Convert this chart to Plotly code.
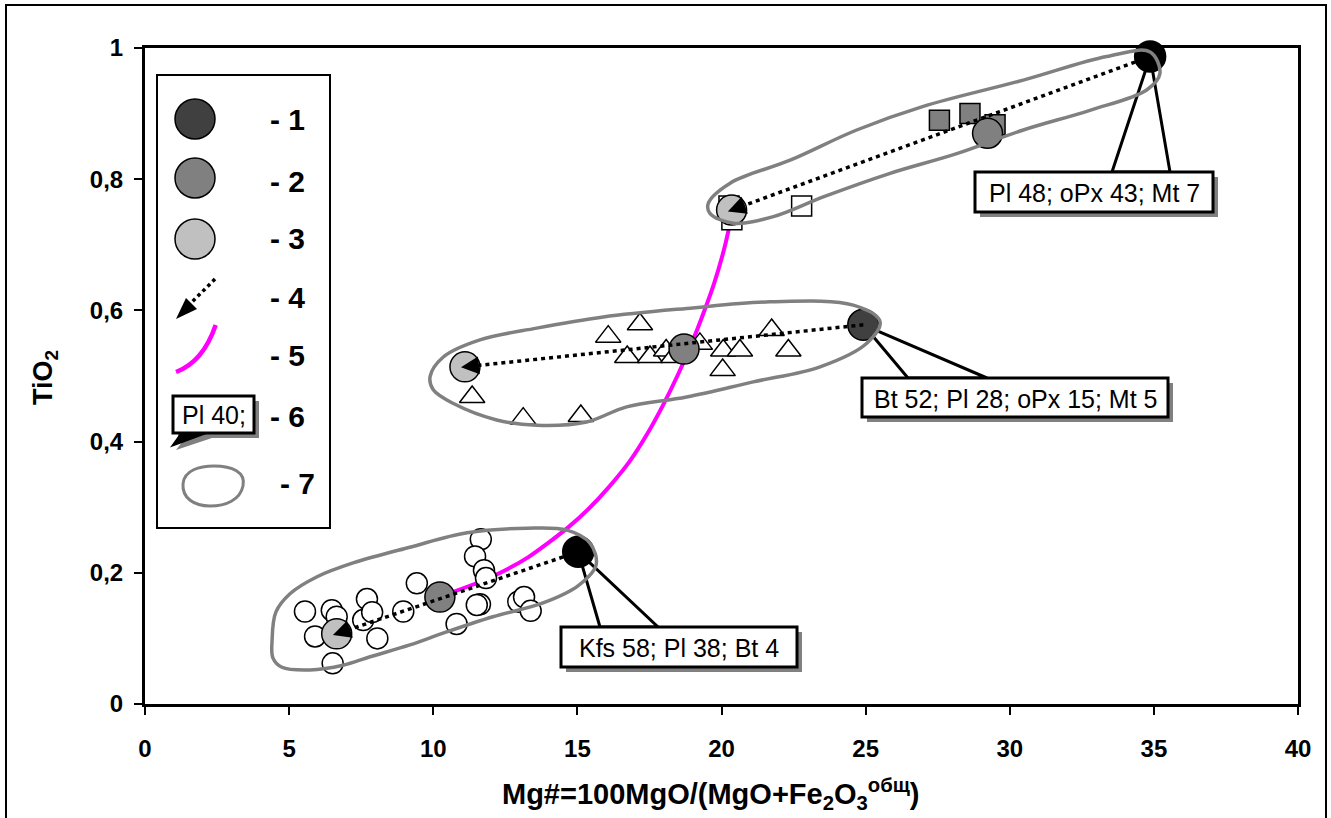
import math
import plotly.graph_objects as go

# ---------------- data ----------------
x_ticks = [0, 5, 10, 15, 20, 25, 30, 35, 40]
x_tick_labels = ["0", "5", "10", "15", "20", "25", "30", "35", "40"]
y_ticks = [0, 0.2, 0.4, 0.6, 0.8, 1.0]
y_tick_labels = ["0", "0,2", "0,4", "0,6", "0,8", "1"]

# open circles (lower group)
open_circle_x = [5.55, 6.48, 6.65, 5.90, 7.70, 7.57, 7.88, 8.06, 6.51, 8.96, 9.43, 10.81,
                 11.65, 11.45, 11.76, 11.83, 11.62, 11.51, 12.95, 13.15, 13.38]
open_circle_y = [0.141, 0.143, 0.133, 0.103, 0.160, 0.128, 0.140, 0.100, 0.062, 0.141, 0.184, 0.122,
                 0.251, 0.225, 0.204, 0.192, 0.152, 0.151, 0.156, 0.163, 0.142]

# open triangles (middle group)
triangle_x = [11.35, 13.12, 15.12, 16.07, 17.17, 16.73, 17.52, 18.08, 18.33, 19.25,
              20.06, 20.64, 20.04, 21.74, 22.32]
triangle_y = [0.468, 0.435, 0.439, 0.560, 0.579, 0.529, 0.529, 0.539, 0.529, 0.549,
              0.539, 0.539, 0.509, 0.570, 0.539]

# squares (upper group)
open_square_x = [20.26, 20.36, 22.78]
open_square_y = [0.759, 0.738, 0.759]
gray_square_x = [27.56, 28.62, 29.49]
gray_square_y = [0.890, 0.900, 0.883]

# model points: 1 - parent, 2 - observed, 3 - calculated residual
p1_x = [15.03, 24.92, 34.87]
p1_y = [0.232, 0.578, 0.987]
p1_color = ["#000000", "#404040", "#000000"]
p2_x = [10.23, 18.70, 29.23]
p2_y = [0.163, 0.541, 0.870]
p3_x = [6.65, 11.10, 20.35]
p3_y = [0.107, 0.514, 0.753]

# magenta trend
magenta_x = [10.70, 11.6, 12.5, 13.3, 14.0, 14.7, 15.4, 16.1, 16.8, 17.4, 18.0, 18.5,
             18.95, 19.35, 19.75, 20.1, 20.35]
magenta_y = [0.171, 0.186, 0.204, 0.224, 0.246, 0.270, 0.298, 0.331, 0.369, 0.410, 0.458, 0.503,
             0.548, 0.593, 0.642, 0.695, 0.745]

# field outlines
ell_low_x = [4.41, 4.54, 5.03, 5.97, 7.22, 9.19, 11.17, 13.25, 14.64, 15.44, 15.65, 15.02,
             13.81, 12.07, 10.34, 9.19, 7.81, 6.87, 5.72, 4.75, 4.44, 4.41]
ell_low_y = [0.098, 0.140, 0.168, 0.194, 0.215, 0.239, 0.261, 0.268, 0.265, 0.245, 0.212, 0.180,
             0.154, 0.133, 0.108, 0.090, 0.072, 0.059, 0.052, 0.056, 0.070, 0.098]
ell_mid_x = [9.89, 10.35, 11.62, 13.59, 15.90, 18.79, 21.68, 24.57, 25.50, 25.04, 23.42,
             21.10, 18.79, 16.71, 15.32, 13.59, 12.20, 10.70, 10.00, 9.89]
ell_mid_y = [0.499, 0.529, 0.555, 0.573, 0.590, 0.603, 0.613, 0.608, 0.583, 0.550, 0.514,
             0.491, 0.468, 0.453, 0.430, 0.425, 0.433, 0.458, 0.479, 0.499]
ell_top_x = [19.54, 20.30, 22.38, 24.69, 27.00, 30.47, 33.36, 34.87, 35.21, 34.75, 32.78,
             30.47, 28.16, 25.85, 23.53, 21.80, 20.41, 19.60, 19.54]
ell_top_y = [0.763, 0.794, 0.829, 0.875, 0.911, 0.951, 0.987, 0.994, 0.961, 0.936, 0.905,
             0.875, 0.839, 0.809, 0.773, 0.743, 0.733, 0.748, 0.763]

callout_texts = ["Kfs 58; Pl 38; Bt 4", "Bt 52; Pl 28; oPx 15; Mt 5", "Pl 48; oPx 43; Mt 7"]
legend_labels = ["- 1", "- 2", "- 3", "- 4", "- 5", "- 6", "- 7"]

# ---------------- layout helpers ----------------
W, H = 1331, 818
L, R, T, B = 145, 1298, 48, 704
XMAX = 40.0
KX = (R - L) / XMAX   # px per x unit
KY = (B - T) / 1.0    # px per y unit
FONT = "Arial, 'Liberation Sans', sans-serif"


def PX(px):
    return (px - L) / (R - L)


def PY(py):
    return (B - py) / (B - T)


def path(points, close=True):
    s = "M " + " L ".join(f"{PX(a):.5f},{PY(b):.5f}" for a, b in points)
    return s + (" Z" if close else "")


fig = go.Figure()

# magenta trend
fig.add_trace(go.Scatter(x=magenta_x, y=magenta_y, mode="lines",
                         line=dict(color="#ff00ff", width=4, shape="spline"),
                         hoverinfo="skip", showlegend=False))

mk_line = dict(color="black", width=1.5)
fig.add_trace(go.Scatter(x=open_circle_x, y=open_circle_y, mode="markers",
                         marker=dict(symbol="circle", size=21, color="white", line=mk_line),
                         showlegend=False, cliponaxis=False))
fig.add_trace(go.Scatter(x=triangle_x, y=triangle_y, mode="markers",
                         marker=dict(symbol="triangle-up", size=22, color="white", line=mk_line),
                         showlegend=False, cliponaxis=False))
fig.add_trace(go.Scatter(x=open_square_x, y=open_square_y, mode="markers",
                         marker=dict(symbol="square", size=20, color="white", line=mk_line),
                         showlegend=False, cliponaxis=False))
fig.add_trace(go.Scatter(x=gray_square_x, y=gray_square_y, mode="markers",
                         marker=dict(symbol="square", size=20, color="#808080", line=mk_line),
                         showlegend=False, cliponaxis=False))

fig.add_trace(go.Scatter(x=p2_x, y=p2_y, mode="markers",
                         marker=dict(symbol="circle", size=30, color="#808080", line=mk_line),
                         showlegend=False, cliponaxis=False))
fig.add_trace(go.Scatter(x=p3_x, y=p3_y, mode="markers",
                         marker=dict(symbol="circle", size=30, color="#c0c0c0", line=mk_line),
                         showlegend=False, cliponaxis=False))
fig.add_trace(go.Scatter(x=p1_x, y=p1_y, mode="markers",
                         marker=dict(symbol="circle", size=31, color=p1_color, line=mk_line),
                         showlegend=False, cliponaxis=False))

for ex, ey in [(ell_low_x, ell_low_y), (ell_mid_x, ell_mid_y), (ell_top_x, ell_top_y)]:
    fig.add_trace(go.Scatter(x=ex, y=ey, mode="lines",
                             line=dict(color="#808080", width=3.5, shape="spline", smoothing=1.0),
                             hoverinfo="skip", showlegend=False, cliponaxis=False))

annotations = []
shapes = []

# dotted arrows 1 -> 3
for i in range(3):
    fig.add_trace(go.Scatter(x=[p1_x[i], p3_x[i]], y=[p1_y[i], p3_y[i]], mode="lines",
                             line=dict(color="black", width=3.5, dash="4px,4px"),
                             hoverinfo="skip", showlegend=False, cliponaxis=False))
    dxp = (p1_x[i] - p3_x[i]) * KX
    dyp = (p1_y[i] - p3_y[i]) * KY
    n = math.hypot(dxp, dyp)
    back = 14.0
    ax = p3_x[i] + back * dxp / n / KX
    ay = p3_y[i] + back * dyp / n / KY
    annotations.append(dict(x=p3_x[i] - 4 * dxp / n / KX, y=p3_y[i] - 4 * dyp / n / KY,
                            xref="x", yref="y", ax=ax, ay=ay, axref="x", ayref="y",
                            showarrow=True, arrowhead=2, arrowsize=1, arrowwidth=3.6,
                            arrowcolor="black", text="", standoff=0, startstandoff=0))

# callouts
callout_boxes = [(561, 627, 797, 667, 600, 658),
                 (862, 378, 1168, 417, 908, 987),
                 (975, 172, 1213, 212, 1112, 1170)]
for i, (bx0, by0, bx1, by1, b0, b1) in enumerate(callout_boxes):
    tx, ty = p1_x[i] / XMAX, p1_y[i]
    shapes.append(dict(type="path", xref="paper", yref="paper", layer="below",
                       path=f"M {PX(b0):.5f},{PY(by0):.5f} L {tx:.5f},{ty:.5f} L {PX(b1):.5f},{PY(by0):.5f} Z",
                       fillcolor="white", line=dict(color="black", width=3)))
    shapes.append(dict(type="rect", xref="paper", yref="paper",
                       x0=PX(bx0 + 5), x1=PX(bx1 + 5), y0=PY(by1 + 5), y1=PY(by0 + 5),
                       fillcolor="#808080", line=dict(width=0)))
    shapes.append(dict(type="rect", xref="paper", yref="paper",
                       x0=PX(bx0), x1=PX(bx1), y0=PY(by1), y1=PY(by0),
                       fillcolor="white", line=dict(color="black", width=3)))
    annotations.append(dict(xref="paper", yref="paper", x=PX((bx0 + bx1) / 2), y=PY((by0 + by1) / 2 + 1),
                            text=callout_texts[i], showarrow=False, xanchor="center", yanchor="middle",
                            font=dict(family=FONT, size=25, color="black")))

# legend box
shapes.append(dict(type="rect", xref="paper", yref="paper", x0=PX(157), x1=PX(330), y0=PY(528), y1=PY(75),
                   fillcolor="white", line=dict(color="black", width=2)))
for cy, col in [(119, "#404040"), (178, "#808080"), (239, "#c0c0c0")]:
    shapes.append(dict(type="circle", xref="paper", yref="paper",
                       x0=PX(175), x1=PX(215), y0=PY(cy + 20), y1=PY(cy - 20),
                       fillcolor=col, line=dict(color="black", width=1.5)))
# legend arrow
shapes.append(dict(type="line", xref="paper", yref="paper", x0=PX(215), y0=PY(279), x1=PX(189), y1=PY(305),
                   line=dict(color="black", width=3.5, dash="dot")))
shapes.append(dict(type="path", xref="paper", yref="paper",
                   path=path([(176, 319), (197, 309), (186, 298)]), fillcolor="black", line=dict(width=0)))
# legend magenta
shapes.append(dict(type="path", xref="paper", yref="paper",
                   path=f"M {PX(215.7):.5f},{PY(325):.5f} Q {PX(203):.5f},{PY(362):.5f} {PX(176):.5f},{PY(372):.5f}",
                   line=dict(color="#ff00ff", width=4.5)))
# legend callout
shapes.append(dict(type="path", xref="paper", yref="paper",
                   path=path([(186, 437), (176, 450), (212, 438)]), fillcolor="#808080", line=dict(width=0)))
shapes.append(dict(type="rect", xref="paper", yref="paper", x0=PX(178), x1=PX(259), y0=PY(438), y1=PY(401),
                   fillcolor="#808080", line=dict(width=0)))
shapes.append(dict(type="path", xref="paper", yref="paper",
                   path=path([(182, 432), (172, 446), (207, 433)]), fillcolor="black",
                   line=dict(color="black", width=1.5)))
shapes.append(dict(type="rect", xref="paper", yref="paper", x0=PX(173), x1=PX(254), y0=PY(433), y1=PY(396),
                   fillcolor="white", line=dict(color="black", width=3)))
annotations.append(dict(xref="paper", yref="paper", x=PX(213.5), y=PY(415), text="Pl 40;", showarrow=False,
                        xanchor="center", yanchor="middle", font=dict(family=FONT, size=25, color="black")))
# legend outline symbol
shapes.append(dict(type="path", xref="paper", yref="paper",
                   path=(f"M {PX(183):.5f},{PY(484):.5f} "
                         f"C {PX(184):.5f},{PY(470):.5f} {PX(200):.5f},{PY(466):.5f} {PX(214):.5f},{PY(466):.5f} "
                         f"C {PX(232):.5f},{PY(466):.5f} {PX(246):.5f},{PY(472):.5f} {PX(243):.5f},{PY(486):.5f} "
                         f"C {PX(240):.5f},{PY(500):.5f} {PX(226):.5f},{PY(506):.5f} {PX(210):.5f},{PY(506):.5f} "
                         f"C {PX(194):.5f},{PY(506):.5f} {PX(182):.5f},{PY(498):.5f} {PX(183):.5f},{PY(484):.5f} Z"),
                   line=dict(color="#808080", width=3)))
legend_y = [120, 181, 238, 297, 355, 416, 484]
legend_x = [268, 268, 268, 268, 268, 268, 278]
for lab, lx, ly in zip(legend_labels, legend_x, legend_y):
    annotations.append(dict(xref="paper", yref="paper", x=PX(lx), y=PY(ly), text=lab, showarrow=False,
                            xanchor="left", yanchor="middle",
                            font=dict(family=FONT, size=30, color="black", weight="bold")))

# axis titles
annotations.append(dict(xref="paper", yref="paper", x=PX(711), y=PY(794),
                        text="Mg#=100MgO/(MgO+Fe<sub>2</sub>O<sub>3</sub><sup>общ</sup>)",
                        showarrow=False, xanchor="center", yanchor="middle",
                        font=dict(family=FONT, size=29, color="black", weight="bold")))
annotations.append(dict(xref="paper", yref="paper", x=PX(45), y=PY(378), text="TiO<sub>2</sub>",
                        showarrow=False, xanchor="center", yanchor="middle", textangle=-90,
                        font=dict(family=FONT, size=27, color="black", weight="bold")))

# outer frame
shapes.append(dict(type="rect", xref="paper", yref="paper", x0=PX(6), x1=PX(1326), y0=PY(840), y1=PY(5),
                   line=dict(color="black", width=2)))

fig.update_layout(
    width=W, height=H, autosize=False,
    margin=dict(l=L, r=W - R, t=T, b=H - B, pad=0),
    paper_bgcolor="white", plot_bgcolor="white",
    shapes=shapes, annotations=annotations,
    font=dict(family=FONT, color="black"),
)
axis_common = dict(showline=True, linewidth=3, linecolor="black", mirror=True, showgrid=False,
                   zeroline=False, ticks="outside", ticklen=8, tickwidth=2, tickcolor="black",
                   tickfont=dict(family=FONT, size=24, color="black", weight="bold"))
fig.update_xaxes(range=[0, 40], tickvals=x_ticks, ticktext=x_tick_labels, ticklabelstandoff=13, **axis_common)
fig.update_yaxes(range=[0, 1], tickvals=y_ticks, ticktext=y_tick_labels, ticklabelstandoff=6, **axis_common)

fig.write_html("out.html", config={"displayModeBar": False},
               post_script="document.body.style.margin='0';document.body.style.overflow='hidden';")
